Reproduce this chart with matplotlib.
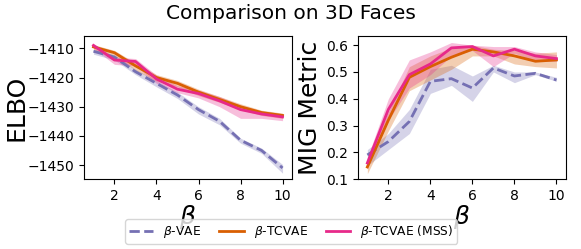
import matplotlib
matplotlib.use('Agg')
import matplotlib.pyplot as plt

beta = [1, 2, 3, 4, 5, 6, 7, 8, 9, 10]

# ELBO
elbo_vae = [-1411, -1413, -1418, -1422, -1426, -1431, -1435, -1441.5, -1445, -1451]
elbo_vae_lo = [-1412, -1414, -1419, -1423.2, -1427.2, -1432.5, -1436.2, -1442.5, -1446, -1452.8]
elbo_vae_hi = [-1410.3, -1412.2, -1417.2, -1421, -1425, -1430, -1434, -1440.8, -1444.2, -1449.8]
elbo_tc = [-1409.5, -1411.5, -1416, -1420, -1422, -1425, -1427.5, -1430, -1432, -1433]
elbo_tc_lo = [-1410.5, -1412.5, -1417.5, -1421.2, -1423.2, -1426.2, -1428.5, -1431, -1433, -1434]
elbo_tc_hi = [-1408.7, -1410.7, -1415, -1419, -1421, -1424, -1426.5, -1429, -1431.2, -1432.2]
elbo_mss = [-1409, -1414, -1414.5, -1420.5, -1424, -1425.5, -1428, -1431, -1432.5, -1433.5]
elbo_mss_lo = [-1410, -1415.5, -1416, -1422, -1425.2, -1427, -1430, -1434, -1434, -1434.8]
elbo_mss_hi = [-1408.3, -1413, -1413.5, -1419.2, -1422.8, -1424.3, -1426.5, -1429.5, -1431.5, -1432.5]

# MIG
mig_vae = [0.19, 0.24, 0.315, 0.465, 0.475, 0.44, 0.515, 0.485, 0.495, 0.47]
mig_vae_lo = [0.15, 0.21, 0.27, 0.42, 0.45, 0.39, 0.50, 0.46, 0.49, 0.465]
mig_vae_hi = [0.21, 0.27, 0.36, 0.51, 0.525, 0.485, 0.525, 0.50, 0.50, 0.48]
mig_tc = [0.145, 0.32, 0.48, 0.52, 0.555, 0.585, 0.575, 0.56, 0.54, 0.545]
mig_tc_lo = [0.12, 0.28, 0.43, 0.47, 0.51, 0.56, 0.56, 0.53, 0.52, 0.515]
mig_tc_hi = [0.17, 0.35, 0.52, 0.56, 0.59, 0.60, 0.585, 0.58, 0.57, 0.575]
mig_mss = [0.16, 0.36, 0.49, 0.53, 0.59, 0.595, 0.56, 0.585, 0.56, 0.55]
mig_mss_lo = [0.14, 0.32, 0.44, 0.49, 0.56, 0.58, 0.52, 0.57, 0.54, 0.54]
mig_mss_hi = [0.18, 0.40, 0.545, 0.575, 0.61, 0.60, 0.595, 0.595, 0.575, 0.565]

c_vae = '#7570b3'
c_tc = '#d95f02'
c_mss = '#e7298a'

fig = plt.figure(figsize=(5.81, 2.49), dpi=100)
ax1 = fig.add_axes([0.1446, 0.281, 0.358, 0.574])
ax2 = fig.add_axes([0.616, 0.281, 0.358, 0.574])


def draw(ax, series):
    handles = []
    for mean, lo, hi, color, ls, label in series:
        ax.fill_between(beta, lo, hi, color=color, alpha=0.3, linewidth=0)
        h, = ax.plot(beta, mean, color=color, linestyle=ls, linewidth=2, label=label)
        handles.append(h)
    ax.set_xlabel(r'$\beta$', fontsize=18, labelpad=0)
    ax.set_xticks([2, 4, 6, 8, 10])
    ax.tick_params(labelsize=10)
    return handles


handles = draw(ax1, [
    (elbo_vae, elbo_vae_lo, elbo_vae_hi, c_vae, '--', r'$\beta$-VAE'),
    (elbo_tc, elbo_tc_lo, elbo_tc_hi, c_tc, '-', r'$\beta$-TCVAE'),
    (elbo_mss, elbo_mss_lo, elbo_mss_hi, c_mss, '-', r'$\beta$-TCVAE (MSS)'),
])
ax1.set_ylim(-1454.8, -1405.8)
ax1.set_yticks([-1450, -1440, -1430, -1420, -1410])
ax1.set_ylabel('ELBO', fontsize=18)
ax1.yaxis.set_label_coords(-0.269, 0.5)

draw(ax2, [
    (mig_vae, mig_vae_lo, mig_vae_hi, c_vae, '--', r'$\beta$-VAE'),
    (mig_tc, mig_tc_lo, mig_tc_hi, c_tc, '-', r'$\beta$-TCVAE'),
    (mig_mss, mig_mss_lo, mig_mss_hi, c_mss, '-', r'$\beta$-TCVAE (MSS)'),
])
ax2.set_ylim(0.1, 0.634)
ax2.set_yticks([0.1, 0.2, 0.3, 0.4, 0.5, 0.6])
ax2.set_ylabel('MIG Metric', fontsize=18)
ax2.yaxis.set_label_coords(-0.173, 0.5)

fig.suptitle('Comparison on 3D Faces', fontsize=14.5, y=0.985)
fig.legend(handles=handles, loc='center', bbox_to_anchor=(0.501, 0.07), ncol=3,
           fontsize=8.8, handlelength=2.0, handletextpad=0.8, columnspacing=1.5,
           borderpad=0.3)

fig.savefig('out.png', dpi=100)
